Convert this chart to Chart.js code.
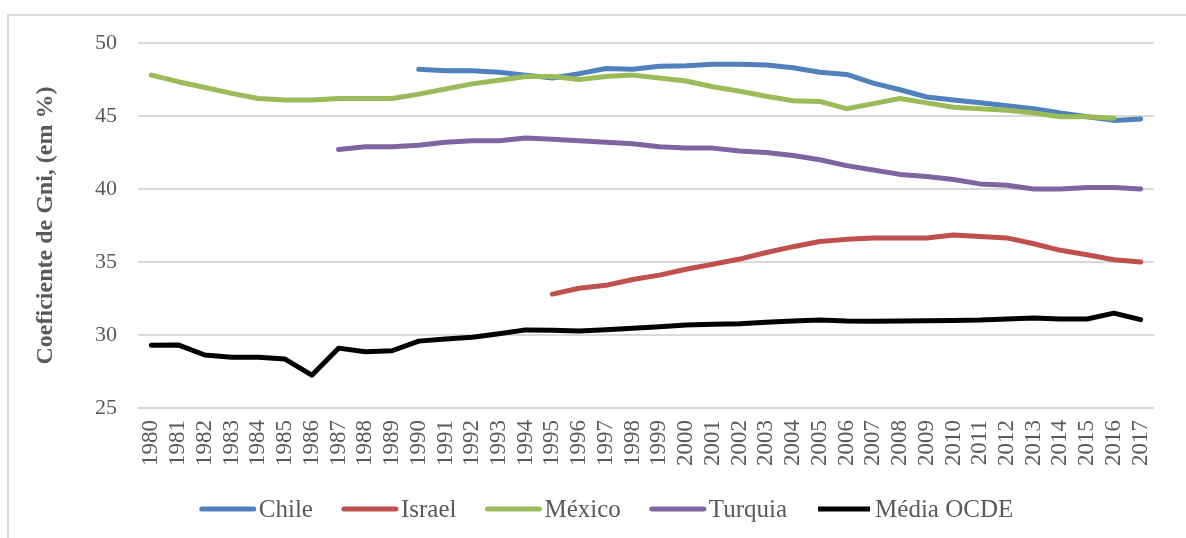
<!DOCTYPE html>
<html>
<head>
<meta charset="utf-8">
<script src="https://cdn.jsdelivr.net/npm/chart.js@4"></script>
<style>
  html, body { margin: 0; padding: 0; background: #ffffff; }
  #wrap { position: relative; width: 1186px; height: 538px; overflow: hidden; }
  #frame { position: absolute; left: 7px; top: 14px; width: 1200px; height: 540px;
           border-left: 2px solid #d9d9d9; border-top: 2px solid #d9d9d9; }
  #c { position: absolute; left: 0; top: 0; }
</style>
</head>
<body>
<div id="wrap">
  <div id="frame"></div>
  <canvas id="c" width="1186" height="538"></canvas>
</div>
<script>
// Gini coefficient (%) by year
const years = [];
for (let y = 1980; y <= 2017; y++) years.push(String(y));

const chile = [null, null, null, null, null, null, null, null, null, null,
  48.2, 48.1, 48.1, 48.0, 47.8, 47.6, 47.9, 48.25, 48.2, 48.4,
  48.45, 48.55, 48.55, 48.5, 48.3, 48.0, 47.85, 47.25, 46.8, 46.3,
  46.1, 45.9, 45.7, 45.5, 45.2, 44.95, 44.7, 44.8];

const israel = [null, null, null, null, null, null, null, null, null, null,
  null, null, null, null, null, 32.8, 33.2, 33.4, 33.8, 34.1,
  34.5, 34.85, 35.2, 35.65, 36.05, 36.4, 36.55, 36.65, 36.65, 36.65,
  36.85, 36.75, 36.65, 36.25, 35.8, 35.5, 35.15, 35.0];

const mexico = [47.8, 47.35, 46.95, 46.55, 46.2, 46.1, 46.1, 46.2, 46.2, 46.2,
  46.5, 46.85, 47.2, 47.45, 47.7, 47.7, 47.5, 47.7, 47.8, 47.6,
  47.4, 47.0, 46.7, 46.35, 46.05, 46.0, 45.5, 45.85, 46.2, 45.9,
  45.6, 45.5, 45.4, 45.2, 44.95, 44.95, 44.85, null];

const turquia = [null, null, null, null, null, null, null, 42.7, 42.9, 42.9,
  43.0, 43.2, 43.3, 43.3, 43.5, 43.4, 43.3, 43.2, 43.1, 42.9,
  42.8, 42.8, 42.6, 42.5, 42.3, 42.0, 41.6, 41.3, 41.0, 40.85,
  40.65, 40.35, 40.25, 40.0, 40.0, 40.1, 40.1, 40.0];

const mediaOcde = [29.3, 29.32, 28.63, 28.48, 28.47, 28.35, 27.25, 29.1, 28.85, 28.92,
  29.58, 29.72, 29.85, 30.08, 30.35, 30.33, 30.27, 30.36, 30.46, 30.57,
  30.68, 30.73, 30.77, 30.87, 30.96, 31.03, 30.96, 30.94, 30.96, 30.98,
  31.0, 31.02, 31.1, 31.17, 31.1, 31.1, 31.5, 31.05];

const seriesNames = ['Chile', 'Israel', 'México', 'Turquia', 'Média OCDE'];
const seriesColors = ['#4f81bd', '#c0504d', '#9bbb59', '#8064a2', '#000000'];
const seriesValues = [chile, israel, mexico, turquia, mediaOcde];

const yTicks = [25, 30, 35, 40, 45, 50];

const SERIF = '"Liberation Serif", "Times New Roman", serif';
const TEXT = '#595959';

// Legend drawn under the plot: line sample followed by the series name
const bottomLegend = {
  id: 'bottomLegend',
  afterDraw(chart) {
    const ctx = chart.ctx;
    const font = '25px ' + SERIF;
    const sample = 56, gapText = 3, gapItem = 29, cy = 509;
    ctx.save();
    ctx.font = font;
    const items = chart.data.datasets.map(ds => ({
      label: ds.label, color: ds.borderColor, w: ctx.measureText(ds.label).width
    }));
    const total = items.reduce((s, it) => s + sample + gapText + it.w, 0) + gapItem * (items.length - 1);
    let x = 606.5 - total / 2;
    items.forEach(it => {
      ctx.strokeStyle = it.color;
      ctx.lineWidth = 5;
      ctx.lineCap = it.color === '#000000' ? 'butt' : 'round';
      ctx.beginPath();
      ctx.moveTo(x + 2, cy);
      ctx.lineTo(x + sample - 2, cy);
      ctx.stroke();
      ctx.fillStyle = TEXT;
      ctx.textBaseline = 'middle';
      ctx.textAlign = 'left';
      ctx.fillText(it.label, x + sample + gapText, cy + 1);
      x += sample + gapText + it.w + gapItem;
    });
    ctx.restore();
  }
};

new Chart(document.getElementById('c'), {
  type: 'line',
  data: {
    labels: years,
    datasets: seriesNames.map((name, i) => ({
      label: name,
      data: seriesValues[i],
      borderColor: seriesColors[i],
      backgroundColor: seriesColors[i],
      borderWidth: 5,
      pointRadius: 0,
      tension: 0,
      spanGaps: false,
      borderCapStyle: 'round',
      borderJoinStyle: 'round',
      order: seriesNames.length - i
    }))
  },
  options: {
    responsive: false,
    animation: false,
    devicePixelRatio: 1,
    layout: { padding: { left: 0, right: 32, top: 43, bottom: 0 } },
    plugins: {
      legend: { display: false },
      tooltip: { enabled: false }
    },
    scales: {
      x: {
        offset: true,
        grid: { display: false, drawTicks: false },
        border: { display: false },
        ticks: {
          autoSkip: false,
          minRotation: 90,
          maxRotation: 90,
          padding: 12,
          color: TEXT,
          font: { family: SERIF, size: 23 }
        },
        afterFit(scale) { scale.height = 130; }
      },
      y: {
        min: 25,
        max: 50,
        afterBuildTicks(scale) { scale.ticks = yTicks.map(v => ({ value: v })); },
        grid: { color: '#d9d9d9', lineWidth: 2, drawTicks: false },
        border: { display: false },
        ticks: {
          padding: 21,
          color: TEXT,
          font: { family: SERIF, size: 22 }
        },
        title: {
          display: true,
          text: 'Coeficiente de Gni, (em %)',
          color: TEXT,
          font: { family: SERIF, size: 24, weight: 'bold' },
          padding: { top: 31, bottom: 0 }
        },
        afterFit(scale) { scale.width = 138; }
      }
    }
  },
  plugins: [bottomLegend]
});
</script>
</body>
</html>
